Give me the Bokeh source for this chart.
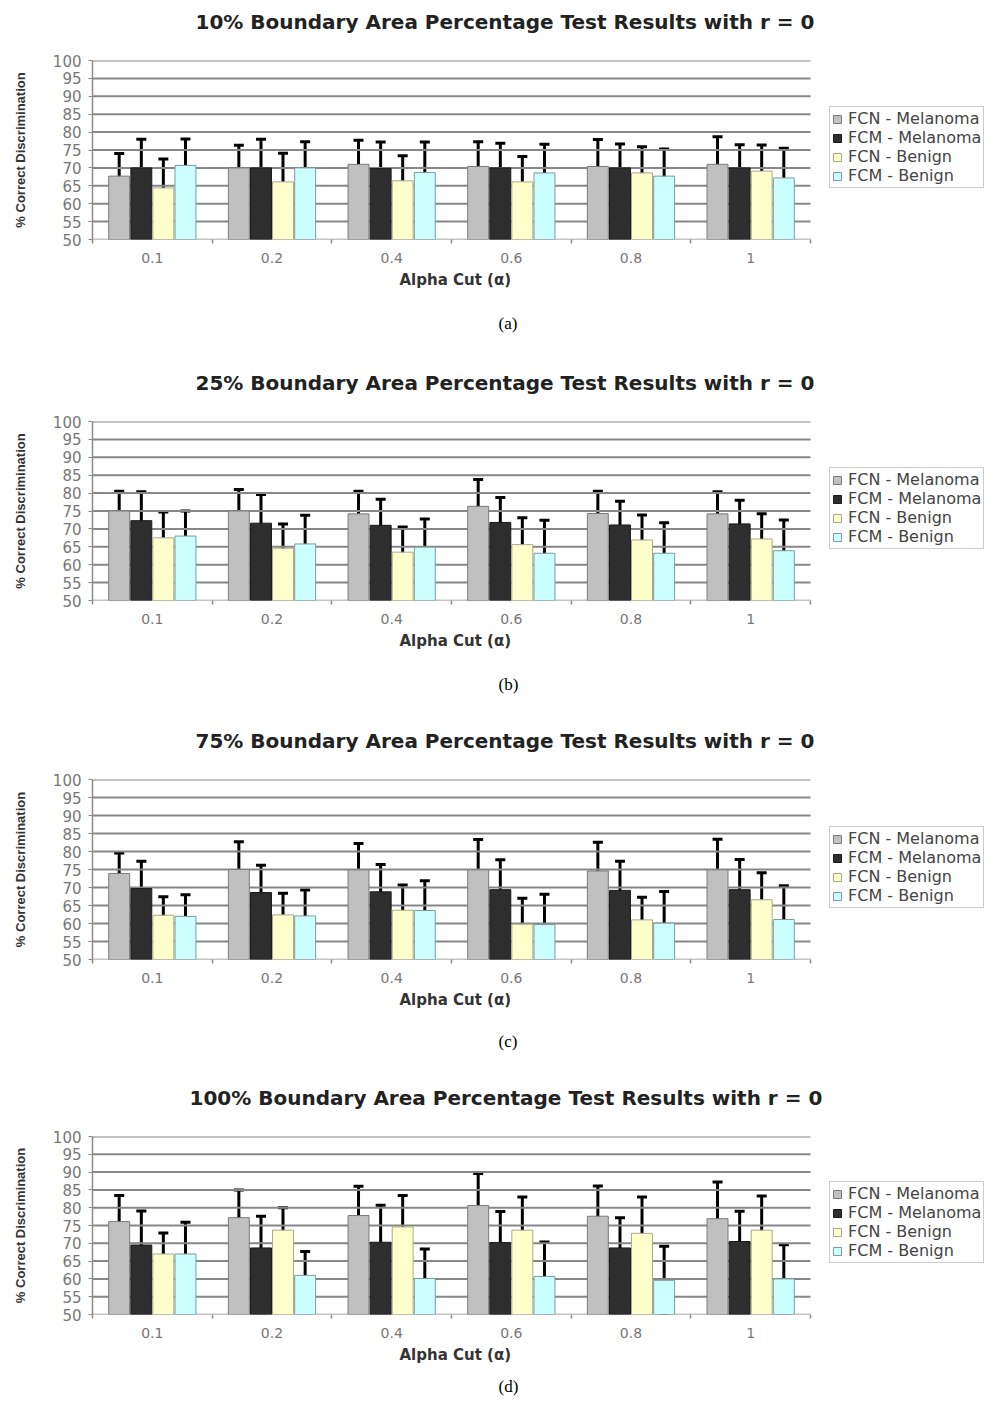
from bokeh.plotting import figure
from bokeh.models import (ColumnDataSource, Range1d, Whisker, TeeHead,
                          Legend, LegendItem, Title, FixedTicker)
from bokeh.transform import dodge
from bokeh.layouts import column
from bokeh.embed import file_html
from bokeh.resources import INLINE

alpha_labels = ["0.1", "0.2", "0.4", "0.6", "0.8", "1"]
series_names = ["FCN - Melanoma", "FCM - Melanoma", "FCN - Benign", "FCM - Benign"]
y_ticks = list(range(50, 101, 5))
x_title = "Alpha Cut (\u03b1)"

titles = ["10% Boundary Area Percentage Test Results with r = 0",
          "25% Boundary Area Percentage Test Results with r = 0",
          "75% Boundary Area Percentage Test Results with r = 0",
          "100% Boundary Area Percentage Test Results with r = 0"]
captions = ["(a)", "(b)", "(c)", "(d)"]

# (a) 10%
a_fcn_mel = [67.7, 70.0, 71.0, 70.4, 70.4, 71.0]
a_fcn_mel_err = [6.3, 6.3, 6.7, 6.9, 7.5, 7.7]
a_fcm_mel = [70.0, 70.0, 69.8, 70.0, 70.0, 70.0]
a_fcm_mel_err = [8.0, 8.0, 7.4, 6.9, 6.7, 6.5]
a_fcn_ben = [64.4, 66.1, 66.4, 66.1, 68.6, 69.1]
a_fcn_ben_err = [8.1, 8.0, 7.0, 7.1, 7.3, 7.3]
a_fcm_ben = [70.7, 70.0, 68.7, 68.6, 67.7, 67.2]
a_fcm_ben_err = [7.4, 7.3, 8.5, 8.0, 7.6, 8.3]

# (b) 25%
b_fcn_mel = [75.0, 75.0, 74.2, 76.3, 74.3, 74.2]
b_fcn_mel_err = [5.5, 6.0, 6.3, 7.5, 6.2, 6.2]
b_fcm_mel = [72.3, 71.6, 71.0, 71.8, 71.1, 71.4]
b_fcm_mel_err = [8.1, 8.0, 7.3, 7.0, 6.6, 6.6]
b_fcn_ben = [67.5, 64.6, 63.5, 65.6, 66.9, 67.2]
b_fcn_ben_err = [7.2, 6.8, 7.0, 7.5, 7.0, 7.0]
b_fcm_ben = [68.0, 65.8, 64.9, 63.2, 63.2, 63.9]
b_fcm_ben_err = [7.0, 8.0, 7.9, 9.2, 8.5, 8.6]

# (c) 75%
c_fcn_mel = [73.9, 75.0, 74.9, 74.9, 74.6, 74.9]
c_fcn_mel_err = [5.7, 7.7, 7.3, 8.4, 8.0, 8.5]
c_fcm_mel = [69.7, 68.6, 68.8, 69.4, 69.2, 69.4]
c_fcm_mel_err = [7.6, 7.6, 7.6, 8.3, 8.1, 8.4]
c_fcn_ben = [62.3, 62.4, 63.7, 59.8, 61.0, 66.6]
c_fcn_ben_err = [5.1, 6.0, 7.0, 7.2, 6.3, 7.5]
c_fcm_ben = [62.0, 62.1, 63.6, 59.7, 60.1, 61.1]
c_fcm_ben_err = [6.0, 7.2, 8.3, 8.4, 8.8, 9.4]

# (d) 100%
d_fcn_mel = [76.1, 77.2, 77.8, 80.6, 77.6, 76.9]
d_fcn_mel_err = [7.3, 7.8, 8.2, 9.0, 8.5, 10.3]
d_fcm_mel = [69.5, 68.7, 70.3, 70.2, 68.7, 70.5]
d_fcm_mel_err = [9.6, 8.9, 10.4, 8.7, 8.5, 8.5]
d_fcn_ben = [67.0, 73.7, 74.6, 73.7, 72.8, 73.7]
d_fcn_ben_err = [5.9, 6.3, 8.8, 9.3, 10.2, 9.6]
d_fcm_ben = [67.0, 61.0, 60.1, 60.7, 59.6, 60.0]
d_fcm_ben_err = [8.9, 6.7, 8.3, 9.7, 9.6, 9.6]

fills = ["#c0c0c0", "#2e2e2e", "#ffffcc", "#ccffff"]
outlines = ["#7a7a7a", "#1a1a1a", "#a8a890", "#7f9a9a"]
offsets = [-0.277, -0.092, 0.092, 0.277]

W = 991
LEFT = 92           # left edge of the plotting area
RIGHT = 810         # right end of the category area (legend sits beyond it)
TOP = 60
n = len(alpha_labels)
unit = (RIGHT - LEFT) / n
X_START = -0.5
X_END = X_START + (W - LEFT) / unit
cat_lo, cat_hi = -0.5, n - 0.5

# per panel: height, frame bottom, title left offset, caption standoff
geoms = [
    dict(h=361, b=239, toff=103, cst=40),
    dict(h=358, b=239, toff=103, cst=40),
    dict(h=357, b=240, toff=103, cst=36),
    dict(h=328, b=238, toff=97, cst=16),
]


def make_panel(title, caption, vals, errs, g):
    p = figure(width=W, height=g["h"], x_range=Range1d(X_START, X_END),
               y_range=Range1d(50, 100), output_backend="svg", toolbar_location=None,
               min_border_left=LEFT, min_border_right=0,
               min_border_top=TOP, min_border_bottom=g["h"] - g["b"])
    p.outline_line_color = None
    p.background_fill_color = "white"
    p.border_fill_color = "white"
    p.xgrid.grid_line_color = None
    p.ygrid.grid_line_color = None

    # horizontal gridlines over the category area only
    grid_src = ColumnDataSource(dict(y=y_ticks[1:], x0=[cat_lo] * (len(y_ticks) - 1),
                                     x1=[cat_hi] * (len(y_ticks) - 1)))
    p.segment(x0="x0", x1="x1", y0="y", y1="y", source=grid_src,
              line_color="#878787", line_width=2)
    base_src = ColumnDataSource(dict(y=[50], x0=[cat_lo], x1=[cat_hi]))
    p.segment(x0="x0", x1="x1", y0="y", y1="y", source=base_src,
              line_color="#8a8a8a", line_width=1.5)

    data = dict(idx=list(range(n)), alpha=alpha_labels)
    for i, (v, e) in enumerate(zip(vals, errs)):
        data[f"v{i}"] = v
        data[f"up{i}"] = [a + b for a, b in zip(v, e)]
        data[f"lo{i}"] = [a - b for a, b in zip(v, e)]
    src = ColumnDataSource(data)

    items = []
    for i in range(4):
        r = p.vbar(x=dodge("idx", offsets[i]), top=f"v{i}", bottom=50,
                   width=0.175, source=src, fill_color=fills[i], line_color=outlines[i],
                   line_width=1)
        items.append(LegendItem(label=series_names[i], renderers=[r]))
    for i in range(4):
        w = Whisker(base=dodge("idx", offsets[i]), upper=f"up{i}",
                    lower=f"lo{i}", source=src, line_color="black", line_width=3,
                    upper_head=TeeHead(size=10, line_width=3, line_color="black"),
                    lower_head=TeeHead(size=10, line_width=3, line_color="black"))
        p.add_layout(w)

    # built-in title unused (kept minimal); spacer + real title stacked above the frame
    p.title.text = ""
    p.title.text_font_size = "1px"
    p.title.standoff = 0
    spacer = Title(text=" ", text_font_size="1px", standoff=18)
    p.add_layout(spacer, "above")
    ttl = Title(text=title, align="left", offset=g["toff"], text_font="DejaVu Sans",
                text_font_size="20px", text_font_style="bold", text_color="#222222",
                standoff=12)
    p.add_layout(ttl, "above")

    xlab = Title(text=x_title, align="left", offset=307, text_font="DejaVu Sans",
                 text_font_size="15px", text_font_style="bold", text_color="#333333",
                 standoff=6)
    p.add_layout(xlab, "below")
    cap = Title(text=caption, align="left", offset=406, text_font="Liberation Serif",
                text_font_size="17px", text_font_style="normal", text_color="black",
                standoff=g["cst"])
    p.add_layout(cap, "below")

    p.yaxis.ticker = FixedTicker(ticks=y_ticks)
    p.yaxis.axis_label = "% Correct Discrimination"
    p.yaxis.axis_label_text_font = "Liberation Sans"
    p.yaxis.axis_label_text_font_size = "13px"
    p.yaxis.axis_label_text_font_style = "bold"
    p.yaxis.axis_label_text_color = "#333333"
    p.yaxis.axis_label_standoff = 22
    p.yaxis.major_label_text_font = "DejaVu Sans"
    p.yaxis.major_label_text_font_size = "15px"
    p.yaxis.major_label_text_color = "#777777"
    p.yaxis.axis_line_color = "#8a8a8a"
    p.yaxis.axis_line_width = 1.5
    p.yaxis.major_tick_line_color = "#8a8a8a"
    p.yaxis.major_tick_out = 4
    p.yaxis.major_tick_in = 0
    p.yaxis.minor_tick_line_color = None
    p.yaxis.major_label_standoff = 7

    p.xaxis.ticker = FixedTicker(ticks=list(range(n)),
                                 minor_ticks=[k - 0.5 for k in range(n + 1)])
    p.xaxis.major_label_overrides = {k: lab for k, lab in enumerate(alpha_labels)}
    p.xaxis.major_label_text_font = "DejaVu Sans"
    p.xaxis.major_label_text_font_size = "14px"
    p.xaxis.major_label_text_color = "#777777"
    p.xaxis.axis_line_color = None
    p.xaxis.major_tick_line_color = None
    p.xaxis.major_tick_out = 6
    p.xaxis.minor_tick_line_color = "#8a8a8a"
    p.xaxis.minor_tick_line_width = 1.5
    p.xaxis.minor_tick_out = 4
    p.xaxis.minor_tick_in = 0
    p.xaxis.major_label_standoff = 7

    leg = Legend(items=items, location=(737, 51), orientation="vertical")
    leg.border_line_color = "#9a9a9a"
    leg.border_line_width = 1
    leg.background_fill_color = "white"
    leg.background_fill_alpha = 1
    leg.label_text_font = "DejaVu Sans"
    leg.label_text_font_size = "16px"
    leg.label_text_color = "#444444"
    leg.glyph_width = 10
    leg.glyph_height = 10
    leg.label_standoff = 6
    leg.label_height = 19
    leg.spacing = 0
    leg.padding = 2
    leg.margin = 0
    p.add_layout(leg, "center")
    return p


all_vals = [
    ([a_fcn_mel, a_fcm_mel, a_fcn_ben, a_fcm_ben], [a_fcn_mel_err, a_fcm_mel_err, a_fcn_ben_err, a_fcm_ben_err]),
    ([b_fcn_mel, b_fcm_mel, b_fcn_ben, b_fcm_ben], [b_fcn_mel_err, b_fcm_mel_err, b_fcn_ben_err, b_fcm_ben_err]),
    ([c_fcn_mel, c_fcm_mel, c_fcn_ben, c_fcm_ben], [c_fcn_mel_err, c_fcm_mel_err, c_fcn_ben_err, c_fcm_ben_err]),
    ([d_fcn_mel, d_fcm_mel, d_fcn_ben, d_fcm_ben], [d_fcn_mel_err, d_fcm_mel_err, d_fcn_ben_err, d_fcm_ben_err]),
]

figs = [make_panel(titles[k], captions[k], all_vals[k][0], all_vals[k][1], geoms[k]) for k in range(4)]
layout = column(*figs, spacing=0)

open("out.html", "w").write(file_html(layout, INLINE))
